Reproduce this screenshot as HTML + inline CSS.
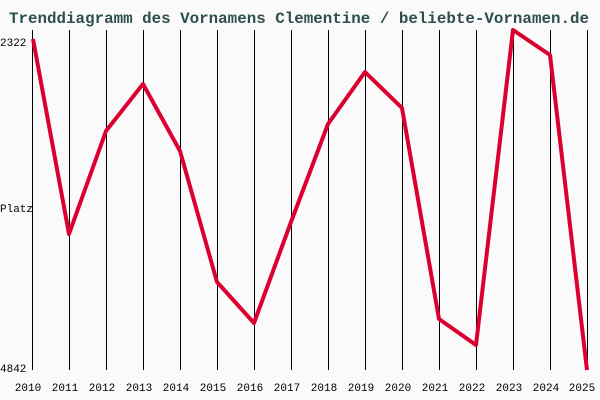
<!DOCTYPE html>
<html><head><style>
body{margin:0;background:#fafafa;}
svg{display:block}
</style></head><body>
<svg width="600" height="400" xmlns="http://www.w3.org/2000/svg">
<rect width="600" height="400" fill="#fafafa"/>
<text x="9" y="23" textLength="580" lengthAdjust="spacingAndGlyphs" font-family="Liberation Mono, monospace" font-size="16" font-weight="bold" fill="#2f4f4f">Trenddiagramm des Vornamens Clementine / beliebte-Vornamen.de</text>
<g stroke="#000" stroke-width="1">
<line x1="32.5" y1="30" x2="32.5" y2="370"/><line x1="69.5" y1="30" x2="69.5" y2="370"/><line x1="106.5" y1="30" x2="106.5" y2="370"/><line x1="143.5" y1="30" x2="143.5" y2="370"/><line x1="180.5" y1="30" x2="180.5" y2="370"/><line x1="217.5" y1="30" x2="217.5" y2="370"/><line x1="254.5" y1="30" x2="254.5" y2="370"/><line x1="291.5" y1="30" x2="291.5" y2="370"/><line x1="328.5" y1="30" x2="328.5" y2="370"/><line x1="365.5" y1="30" x2="365.5" y2="370"/><line x1="402.5" y1="30" x2="402.5" y2="370"/><line x1="439.5" y1="30" x2="439.5" y2="370"/><line x1="476.5" y1="30" x2="476.5" y2="370"/><line x1="513.5" y1="30" x2="513.5" y2="370"/><line x1="550.5" y1="30" x2="550.5" y2="370"/><line x1="587.5" y1="30" x2="587.5" y2="370"/>
</g>
<g font-family="Liberation Mono, monospace" font-size="11" fill="#000">
<text x="0" y="46">2322</text><text x="0" y="212">Platz</text><text x="0" y="372">4842</text>
<g text-anchor="middle">
<text x="28" y="391">2010</text><text x="65" y="391">2011</text><text x="102" y="391">2012</text><text x="139" y="391">2013</text><text x="176" y="391">2014</text><text x="213" y="391">2015</text><text x="250" y="391">2016</text><text x="287" y="391">2017</text><text x="324" y="391">2018</text><text x="361" y="391">2019</text><text x="398" y="391">2020</text><text x="435" y="391">2021</text><text x="472" y="391">2022</text><text x="509" y="391">2023</text><text x="546" y="391">2024</text><text x="582" y="391">2025</text>
</g></g>
<polyline fill="none" stroke="#dc0030" stroke-width="4" stroke-linejoin="round" points="33,39 69,234 106,131 143,84 180,151 217,282 254,323 291,222 328,124 365,72 402,108 439,319 476,345 513,30 550,55 587,370"/>
</svg>
</body></html>
